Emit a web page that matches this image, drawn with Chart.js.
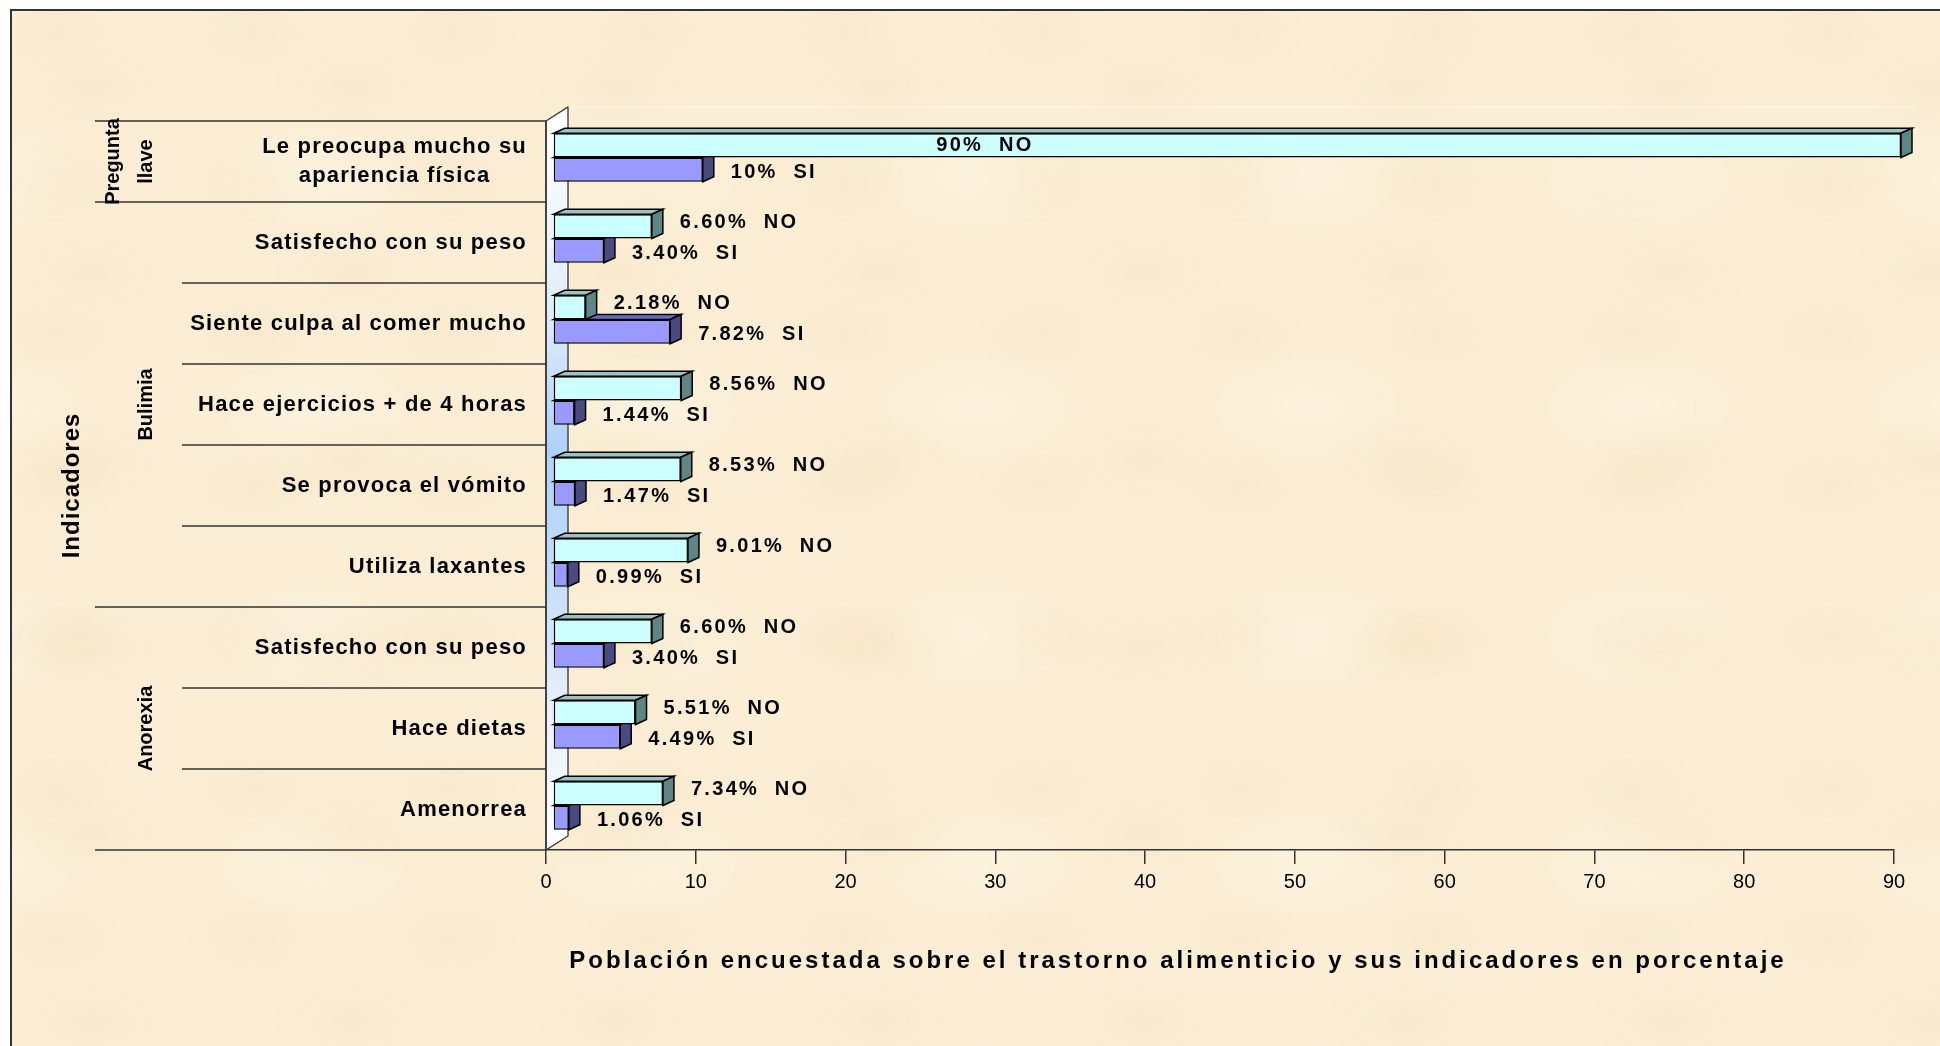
<!DOCTYPE html>
<html>
<head>
<meta charset="utf-8">
<script src="https://cdn.jsdelivr.net/npm/chart.js@4.4.0/dist/chart.umd.min.js"></script>
<style>
  html, body { margin: 0; padding: 0; background: #fff; overflow: hidden; }
  #frame {
    position: absolute; left: 10px; top: 9px; width: 1940px; height: 1060px;
    border-left: 2px solid #333; border-top: 2px solid #333;
    background-color: #fbeed5;
    background-image:
      radial-gradient(ellipse 110px 60px at 30% 40%, rgba(240,218,178,0.22), transparent 75%),
      radial-gradient(ellipse 130px 70px at 65% 55%, rgba(255,250,238,0.35), transparent 75%),
      radial-gradient(ellipse 90px 55px at 50% 50%, rgba(238,214,172,0.18), transparent 75%);
    background-size: 263px 187px, 331px 229px, 197px 151px;
    background-position: 0 0, 87px 41px, 143px 97px;
  }
  #c { position: absolute; left: 0; top: 0; }
</style>
</head>
<body>
<div id="frame"></div>
<canvas id="c" width="1940" height="1046"></canvas>
<script>
// datos del grafico
const categories = [
  ['Le preocupa mucho su', 'apariencia física'],
  'Satisfecho con su peso',
  'Siente culpa al comer mucho',
  'Hace ejercicios + de 4 horas',
  'Se provoca el vómito',
  'Utiliza laxantes',
  'Satisfecho con su peso',
  'Hace dietas',
  'Amenorrea'
];
const noValues = [90, 6.60, 2.18, 8.56, 8.53, 9.01, 6.60, 5.51, 7.34];
const siValues = [10, 3.40, 7.82, 1.44, 1.47, 0.99, 3.40, 4.49, 1.06];
const seriesNames = ['NO', 'SI'];
const groupNames = [['Pregunta', 'llave'], ['Bulimia'], ['Anorexia']];
const groupSizes = [1, 5, 3];
const xMin = 0, xMax = 90, xStep = 10;
const yTitle = 'Indicadores';
const xTitle = 'Población encuestada sobre el trastorno alimenticio y sus indicadores en porcentaje';

const FONT = '"Liberation Sans", Arial, sans-serif';
const DX = 7, DY = -4;          // las barras estan "dentro" del grafico 3D
const DEPTH_X = 11, DEPTH_Y = 5;
const faceColors = [
  { top: '#99c4c4', side: '#5f8585' },   // NO
  { top: '#6a6ac8', side: '#4a4a80' }    // SI
];

function fmt(v) {
  return (v % 1 === 0 ? String(v) : v.toFixed(2)) + '%';
}

function rowEdges(chart) {
  const y = chart.scales.y, n = chart.data.labels.length;
  const edges = [chart.chartArea.top];
  for (let i = 1; i < n; i++) edges.push((y.getPixelForValue(i - 1) + y.getPixelForValue(i)) / 2);
  edges.push(chart.chartArea.bottom);
  return edges;
}

function drawFaces(ctx, el, colors) {
  const p = el.getProps(['x', 'y', 'base', 'height'], true);
  const L = Math.min(p.x, p.base), R = Math.max(p.x, p.base);
  const T = p.y - p.height / 2, B = p.y + p.height / 2;
  ctx.lineWidth = 1.5;
  ctx.strokeStyle = '#000';
  // cara superior
  ctx.beginPath();
  ctx.moveTo(L, T); ctx.lineTo(L + DEPTH_X, T - DEPTH_Y);
  ctx.lineTo(R + DEPTH_X, T - DEPTH_Y); ctx.lineTo(R, T); ctx.closePath();
  ctx.fillStyle = colors.top; ctx.fill(); ctx.stroke();
  // cara lateral
  ctx.beginPath();
  ctx.moveTo(R, T); ctx.lineTo(R + DEPTH_X, T - DEPTH_Y);
  ctx.lineTo(R + DEPTH_X, B - DEPTH_Y); ctx.lineTo(R, B); ctx.closePath();
  ctx.fillStyle = colors.side; ctx.fill(); ctx.stroke();
}

function rotText(ctx, text, x, y) {
  ctx.save();
  ctx.translate(x, y);
  ctx.rotate(-Math.PI / 2);
  ctx.textAlign = 'center';
  ctx.textBaseline = 'middle';
  ctx.fillText(text, 0, 0);
  ctx.restore();
}

const bars3d = {
  id: 'bars3d',
  beforeDatasetsDraw(chart) {
    const ctx = chart.ctx, a = chart.chartArea;
    // pared lateral con degradado azul
    const l = a.left, r = a.left + 22, up = 14;
    const g = ctx.createLinearGradient(0, a.top, 0, a.bottom);
    g.addColorStop(0, '#ffffff');
    g.addColorStop(0.25, '#e2eefc');
    g.addColorStop(0.45, '#addff7'.replace('addff7', 'afd2f7'));
    g.addColorStop(0.6, '#bfdaf8');
    g.addColorStop(0.8, '#e6f0fc');
    g.addColorStop(1, '#ffffff');
    ctx.save();
    ctx.beginPath();
    ctx.moveTo(l, a.top); ctx.lineTo(r, a.top - up); ctx.lineTo(r, a.bottom - up); ctx.lineTo(l, a.bottom);
    ctx.closePath();
    ctx.fillStyle = g; ctx.fill();
    ctx.strokeStyle = '#333'; ctx.lineWidth = 1.3; ctx.stroke();
    ctx.beginPath();
    ctx.moveTo(r, a.top - up); ctx.lineTo(a.right + 23, a.top - up);
    ctx.strokeStyle = 'rgba(255,255,255,0.4)'; ctx.lineWidth = 1.5; ctx.stroke();
    ctx.restore();

    ctx.save();
    ctx.translate(DX, DY);
    const n = chart.data.labels.length;
    for (let i = 0; i < n; i++) {
      for (let d = chart.data.datasets.length - 1; d >= 0; d--) {
        drawFaces(ctx, chart.getDatasetMeta(d).data[i], faceColors[d]);
      }
    }
  },
  afterDatasetsDraw(chart) {
    const ctx = chart.ctx;
    ctx.restore();
    ctx.save();
    ctx.font = 'bold 20px ' + FONT;
    ctx.letterSpacing = '2.3px';
    ctx.fillStyle = '#000';
    ctx.textBaseline = 'middle';
    ctx.textAlign = 'left';
    chart.data.datasets.forEach((ds, d) => {
      chart.getDatasetMeta(d).data.forEach((el, i) => {
        const p = el.getProps(['x', 'y', 'base'], true);
        const text = fmt(ds.data[i]) + '  ' + seriesNames[d];
        const w = ctx.measureText(text).width;
        let lx = p.x + DX + 28;
        let ly = p.y + DY + (d === 0 ? -4 : 3);
        if (lx + w > chart.chartArea.right) {
          lx = p.base + DX + (p.x - p.base) * 0.32 - w / 2;
          ly = p.y + DY;
        }
        ctx.fillText(text, lx, ly);
      });
    });
    ctx.restore();
  },
  afterDraw(chart) {
    const ctx = chart.ctx, a = chart.chartArea;
    const edges = rowEdges(chart);
    const longX = 95, shortX = 182;
    // lineas de la tabla a la izquierda
    const groupEdges = [0];
    groupSizes.forEach(s => groupEdges.push(groupEdges[groupEdges.length - 1] + s));
    ctx.save();
    ctx.strokeStyle = '#333';
    ctx.lineWidth = 1.5;
    edges.forEach((yy, i) => {
      ctx.beginPath();
      ctx.moveTo(groupEdges.includes(i) ? longX : shortX, yy);
      ctx.lineTo(a.left, yy);
      ctx.stroke();
    });
    ctx.beginPath();
    ctx.moveTo(a.left, a.top); ctx.lineTo(a.left, a.bottom);
    ctx.stroke();

    // etiquetas de categorias
    ctx.fillStyle = '#000';
    ctx.font = 'bold 22px ' + FONT;
    ctx.letterSpacing = '1.2px';
    ctx.textBaseline = 'middle';
    const rightX = 527;
    chart.data.labels.forEach((lab, i) => {
      const lines = Array.isArray(lab) ? lab : [lab];
      const cy = (edges[i] + edges[i + 1]) / 2;
      const maxW = Math.max(...lines.map(t => ctx.measureText(t).width));
      ctx.textAlign = 'center';
      lines.forEach((t, j) => {
        ctx.fillText(t, rightX - maxW / 2, cy + (j - (lines.length - 1) / 2) * 29);
      });
    });

    // grupos
    ctx.font = 'bold 20px ' + FONT;
    ctx.letterSpacing = '0px';
    groupNames.forEach((lines, gi) => {
      const cy = (edges[groupEdges[gi]] + edges[groupEdges[gi + 1]]) / 2;
      lines.forEach((t, j) => {
        rotText(ctx, t, 146 - 33 * (lines.length - 1 - j), cy);
      });
    });

    // titulo eje y
    ctx.font = 'bold 24px ' + FONT;
    ctx.letterSpacing = '1px';
    rotText(ctx, yTitle, 72, (a.top + a.bottom) / 2);

    // titulo eje x
    ctx.letterSpacing = '3px';
    ctx.textAlign = 'center';
    ctx.textBaseline = 'middle';
    ctx.fillText(xTitle, (a.left + a.right) / 2 - 42, 961);
    ctx.restore();
  }
};

new Chart(document.getElementById('c'), {
  type: 'bar',
  data: {
    labels: categories,
    datasets: [
      {
        label: seriesNames[0], data: noValues,
        backgroundColor: '#ccffff', borderColor: '#000', borderWidth: 1.5, borderSkipped: false,
        categoryPercentage: 0.6, barPercentage: 1.0, clip: false
      },
      {
        label: seriesNames[1], data: siValues,
        backgroundColor: '#9999ff', borderColor: '#000', borderWidth: 1.5, borderSkipped: false,
        categoryPercentage: 0.6, barPercentage: 1.0, clip: false
      }
    ]
  },
  options: {
    indexAxis: 'y',
    responsive: false,
    animation: false,
    devicePixelRatio: 1,
    layout: { padding: { left: 546, right: 46, top: 121, bottom: 100 } },
    plugins: { legend: { display: false }, tooltip: { enabled: false } },
    scales: {
      y: { type: 'category', display: false },
      x: {
        min: xMin, max: xMax,
        ticks: { stepSize: xStep, color: '#000', padding: 6, font: { family: FONT, size: 20 } },
        grid: { drawOnChartArea: false, drawTicks: true, tickLength: 14, color: '#333', lineWidth: 1.5 },
        border: { display: true, color: '#333', width: 1.5 },
        afterFit(scale) { scale.height = 96; }
      }
    }
  },
  plugins: [bars3d]
});
</script>
</body>
</html>
